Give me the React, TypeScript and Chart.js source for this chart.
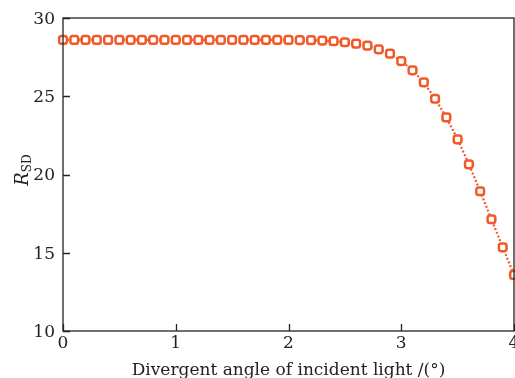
import React, { useEffect, useRef } from "react";
import { Chart, registerables } from "chart.js";

Chart.register(...registerables);

const xValues = [
  0, 0.1, 0.2, 0.3, 0.4, 0.5, 0.6, 0.7, 0.8, 0.9,
  1, 1.1, 1.2, 1.3, 1.4, 1.5, 1.6, 1.7, 1.8, 1.9,
  2, 2.1, 2.2, 2.3, 2.4, 2.5, 2.6, 2.7, 2.8, 2.9,
  3, 3.1, 3.2, 3.3, 3.4, 3.5, 3.6, 3.7, 3.8, 3.9, 4,
];
const rsdValues = [
  28.6, 28.6, 28.6, 28.6, 28.6, 28.6, 28.6, 28.6, 28.6, 28.6,
  28.6, 28.6, 28.6, 28.6, 28.6, 28.6, 28.6, 28.6, 28.6, 28.6,
  28.6, 28.59, 28.58, 28.56, 28.52, 28.45, 28.36, 28.23, 28.0, 27.72,
  27.25, 26.66, 25.89, 24.84, 23.65, 22.25, 20.65, 18.93, 17.14, 15.35, 13.58,
];
const xTicks = [0, 1, 2, 3, 4];
const yTicks = [10, 15, 20, 25, 30];
const xTitle = "Divergent angle of incident light /(°)";
const yTitleMain = "R";
const yTitleSub = "SD";

const COLOR = "rgb(240,90,40)";
const FONT = "'DejaVu Serif', 'Liberation Serif', serif";

const framePlugin = {
  id: "frame",
  afterDraw(chart: any) {
    const { ctx, chartArea } = chart;
    const xs = chart.scales.x;
    const ys = chart.scales.y;
    ctx.save();
    ctx.strokeStyle = "#222";
    ctx.lineWidth = 1.3;
    ctx.strokeRect(chartArea.left, chartArea.top, chartArea.right - chartArea.left, chartArea.bottom - chartArea.top);
    const tl = 7;
    ctx.beginPath();
    xTicks.forEach((v) => {
      const px = Math.round(xs.getPixelForValue(v)) + 0.5;
      ctx.moveTo(px, chartArea.bottom);
      ctx.lineTo(px, chartArea.bottom - tl);
    });
    yTicks.forEach((v) => {
      const py = Math.round(ys.getPixelForValue(v)) + 0.5;
      ctx.moveTo(chartArea.left, py);
      ctx.lineTo(chartArea.left + tl, py);
    });
    ctx.stroke();

    // x title
    ctx.fillStyle = "#222";
    ctx.font = `17px ${FONT}`;
    ctx.textAlign = "center";
    ctx.textBaseline = "alphabetic";
    ctx.fillText(xTitle, (chartArea.left + chartArea.right) / 2, 375);

    // y title
    ctx.translate(28, 170);
    ctx.rotate(-Math.PI / 2);
    ctx.textAlign = "left";
    ctx.font = `italic 18px ${FONT}`;
    const wR = ctx.measureText(yTitleMain).width;
    ctx.font = `12px ${FONT}`;
    const wS = ctx.measureText(yTitleSub).width;
    const total = wR + wS;
    ctx.font = `italic 18px ${FONT}`;
    ctx.fillText(yTitleMain, -total / 2, 0);
    ctx.font = `12px ${FONT}`;
    ctx.fillText(yTitleSub, -total / 2 + wR, 3);
    ctx.restore();
  },
};

export default function App() {
  const ref = useRef<HTMLCanvasElement | null>(null);
  useEffect(() => {
    if (!ref.current) return;
    const chart = new Chart(ref.current, {
      type: "line",
      data: {
        datasets: [
          {
            data: xValues.map((x, i) => ({ x, y: rsdValues[i] })),
            borderColor: COLOR,
            borderWidth: 2.2,
            borderDash: [2, 2],
            pointStyle: "rectRounded",
            pointRadius: 4.5,
            pointBorderWidth: 2.5,
            pointBorderColor: COLOR,
            pointBackgroundColor: "#fff",
            clip: false as any,
            tension: 0,
          },
        ],
      },
      options: {
        animation: false,
        responsive: false,
        maintainAspectRatio: false,
        layout: { autoPadding: false, padding: { top: 18, right: 1, left: 0, bottom: 0 } },
        plugins: { legend: { display: false }, tooltip: { enabled: false } },
        scales: {
          x: {
            type: "linear",
            min: 0,
            max: 4,
            grid: { display: false, drawTicks: false },
            border: { display: false },
            ticks: {
              stepSize: 1,
              padding: 2,
              color: "#222",
              font: { family: FONT, size: 17 },
              maxRotation: 0,
            },
            afterFit(scale: any) {
              scale.height = 47;
              scale.paddingLeft = 0;
              scale.paddingRight = 0;
            },
          },
          y: {
            min: 10,
            max: 30,
            grid: { display: false, drawTicks: false },
            border: { display: false },
            ticks: {
              stepSize: 5,
              padding: 8,
              labelOffset: 1.5,
              color: "#222",
              font: { family: FONT, size: 17 },
            },
            afterFit(scale: any) {
              scale.width = 63;
              scale.paddingTop = 0;
              scale.paddingBottom = 0;
            },
          },
        },
      },
      plugins: [framePlugin],
    });
    return () => chart.destroy();
  }, []);
  return (
    <div style={{ position: "absolute", left: 0, top: 0, width: 515, height: 378, background: "#fff" }}>
      <canvas ref={ref} width={515} height={378} style={{ width: 515, height: 378 }} />
    </div>
  );
}
